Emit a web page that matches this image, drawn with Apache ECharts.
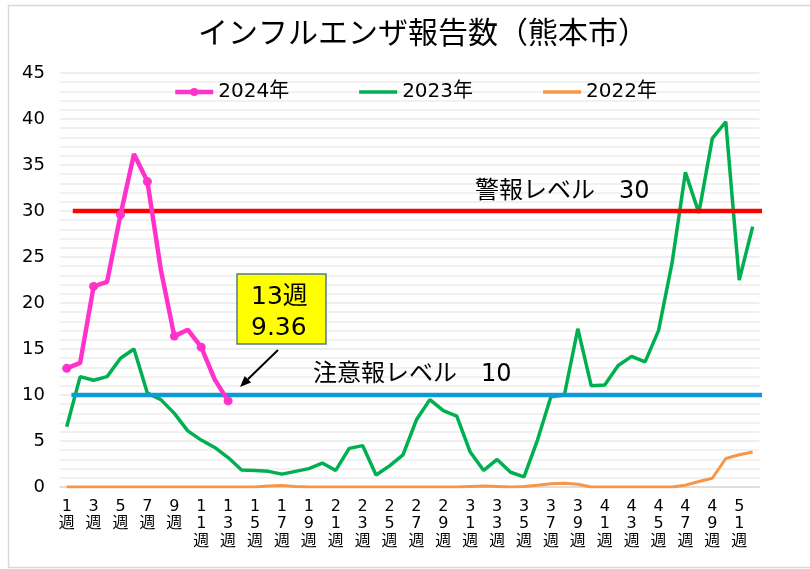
<!DOCTYPE html>
<html>
<head>
<meta charset="utf-8">
<script src="https://cdn.jsdelivr.net/npm/echarts@6/dist/echarts.min.js"></script>
<style>html,body{margin:0;padding:0;background:#fff;}#c{width:810px;height:569px;}</style>
</head>
<body>
<div id="c"></div>
<script>
var weeks = ['1週','2週','3週','4週','5週','6週','7週','8週','9週','10週','11週','12週','13週','14週','15週','16週','17週','18週','19週','20週','21週','22週','23週','24週','25週','26週','27週','28週','29週','30週','31週','32週','33週','34週','35週','36週','37週','38週','39週','40週','41週','42週','43週','44週','45週','46週','47週','48週','49週','50週','51週','52週'];
var y2024 = [12.9, 13.5, 21.8, 22.3, 29.6, 36.2, 33.2, 23.6, 16.4, 17.1, 15.2, 11.7, 9.36];
var y2023 = [6.55, 12.0, 11.6, 12.0, 14.0, 15.0, 10.2, 9.5, 8.0, 6.1, 5.1, 4.3, 3.2, 1.85, 1.8, 1.7, 1.4, 1.7, 2.0, 2.6, 1.8, 4.2, 4.5, 1.3, 2.3, 3.5, 7.3, 9.5, 8.3, 7.7, 3.8, 1.8, 3.0, 1.6, 1.1, 5.1, 9.8, 10.0, 17.2, 11.0, 11.1, 13.2, 14.2, 13.6, 17.0, 24.3, 34.2, 29.8, 37.9, 39.7, 22.5, 28.3];
var y2022 = [0, 0, 0, 0, 0, 0, 0, 0, 0, 0, 0, 0, 0, 0, 0, 0.1, 0.15, 0.05, 0, 0, 0, 0, 0, 0, 0, 0, 0, 0, 0, 0, 0.05, 0.1, 0.05, 0, 0.05, 0.2, 0.35, 0.4, 0.3, 0, 0, 0, 0, 0, 0, 0, 0.2, 0.6, 0.95, 3.1, 3.5, 3.8];
var yTicks = [0, 5, 10, 15, 20, 25, 30, 35, 40, 45];
var warnLevel = 30;
var cautionLevel = 10;
var levelSpan = [1.45, 53.4];
var seriesNames = ['2024年', '2023年', '2022年'];
var titleText = 'インフルエンザ報告数（熊本市）';
var warnText = '警報レベル　30';
var cautionText = '注意報レベル　10';
var noteLines = ['13週', '9.36'];

var FF = '"DejaVu Sans", "Noto Sans CJK JP", sans-serif';
var chart = echarts.init(document.getElementById('c'));

var arrowTip = [240, 387], arrowTail = [278, 350];
var dx = arrowTip[0] - arrowTail[0], dy = arrowTip[1] - arrowTail[1];
var len = Math.sqrt(dx*dx + dy*dy); var ux = dx/len, uy = dy/len;
var hb = [arrowTip[0] - ux*11, arrowTip[1] - uy*11];
var px = -uy*4.5, py = ux*4.5;
var barIcon = 'path://M0,0 L38,0 L38,3.5 L0,3.5 Z';

chart.setOption({
  animation: false,
  backgroundColor: '#fff',
  textStyle: { fontFamily: FF },
  title: {
    text: titleText, left: 193, top: 15,
    textStyle: { fontFamily: FF, fontSize: 30, fontWeight: 'normal', color: '#000' }
  },
  legend: {
    data: [
      { name: seriesNames[0], lineStyle: { width: 4.5 } },
      { name: seriesNames[1], icon: barIcon },
      { name: seriesNames[2], icon: barIcon }
    ],
    left: 168, top: 77, itemWidth: 38, itemHeight: 10, itemGap: 70, symbolKeepAspect: true,
    textStyle: { fontFamily: FF, fontSize: 20, color: '#000' }
  },
  grid: { left: 60, right: 50.6, top: 73, bottom: 82 },
  xAxis: [{
    type: 'category', data: weeks, boundaryGap: true,
    axisLine: { lineStyle: { color: '#d9d9d9', width: 1.5 } },
    axisTick: { show: false },
    axisLabel: {
      interval: 1, margin: 11, fontSize: 16, lineHeight: 17.5, color: '#000', fontFamily: FF,
      formatter: function (v) { return v.split('').join('\n'); }
    }
  }, {
    type: 'value', min: 0.5, max: 52.5, show: false
  }],
  yAxis: {
    type: 'value', min: yTicks[0], max: yTicks[yTicks.length - 1], interval: 5,
    axisLine: { show: false }, axisTick: { show: false },
    axisLabel: { fontSize: 18, color: '#000', margin: 15, fontFamily: FF },
    splitLine: { lineStyle: { color: '#e9e9e9', width: 1.5 } },
    minorTick: { show: false, splitNumber: 5 },
    minorSplitLine: { show: true, lineStyle: { color: '#ededed', width: 1.5 } }
  },
  series: [
    { name: '2022年', type: 'line', data: y2022, symbol: 'none', lineStyle: { color: '#F79646', width: 3 }, itemStyle: { color: '#F79646' }, z: 2 },
    { name: '2023年', type: 'line', data: y2023, symbol: 'none', lineStyle: { color: '#00B050', width: 3.5 }, itemStyle: { color: '#00B050' }, z: 3 },
    { name: 'warn', type: 'line', xAxisIndex: 1, clip: false, symbol: 'none', data: [[levelSpan[0], warnLevel], [levelSpan[1], warnLevel]], lineStyle: { color: '#FF0000', width: 4.5 }, z: 4 },
    { name: 'caution', type: 'line', xAxisIndex: 1, clip: false, symbol: 'none', data: [[levelSpan[0] - 0.1, cautionLevel], [levelSpan[1], cautionLevel]], lineStyle: { color: '#0E9BD3', width: 4.5 }, z: 4 },
    { name: '2024年', type: 'line', data: y2024, symbol: 'circle', symbolSize: 9, lineStyle: { color: '#FF33CC', width: 4.5 }, itemStyle: { color: '#FF33CC' }, z: 5 }
  ],
  graphic: [
    { type: 'rect', silent: true, z: -10, shape: { x: 8.5, y: 5.5, width: 820, height: 562 }, style: { fill: 'none', stroke: '#d9d9d9', lineWidth: 1.5 } },
    { type: 'text', z: 10, x: 475, y: 192, style: { text: warnText, font: '24px ' + FF, fill: '#000', verticalAlign: 'middle' } },
    { type: 'text', z: 10, x: 313, y: 375, style: { text: cautionText, font: '24px ' + FF, fill: '#000', verticalAlign: 'middle' } },
    { type: 'rect', z: 10, shape: { x: 237, y: 274, width: 89, height: 70 }, style: { fill: '#FFFF00', stroke: '#507C8C', lineWidth: 1.5 } },
    { type: 'text', z: 11, x: 251, y: 297, style: { text: noteLines[0], font: '25px ' + FF, fill: '#000', verticalAlign: 'middle' } },
    { type: 'text', z: 11, x: 251, y: 328, style: { text: noteLines[1], font: '25px ' + FF, fill: '#000', verticalAlign: 'middle' } },
    { type: 'line', z: 11, shape: { x1: arrowTail[0], y1: arrowTail[1], x2: hb[0], y2: hb[1] }, style: { stroke: '#000', lineWidth: 2 } },
    { type: 'polygon', z: 11, shape: { points: [arrowTip, [hb[0] + px, hb[1] + py], [hb[0] - px, hb[1] - py]] }, style: { fill: '#000' } }
  ]
});
</script>
</body>
</html>
